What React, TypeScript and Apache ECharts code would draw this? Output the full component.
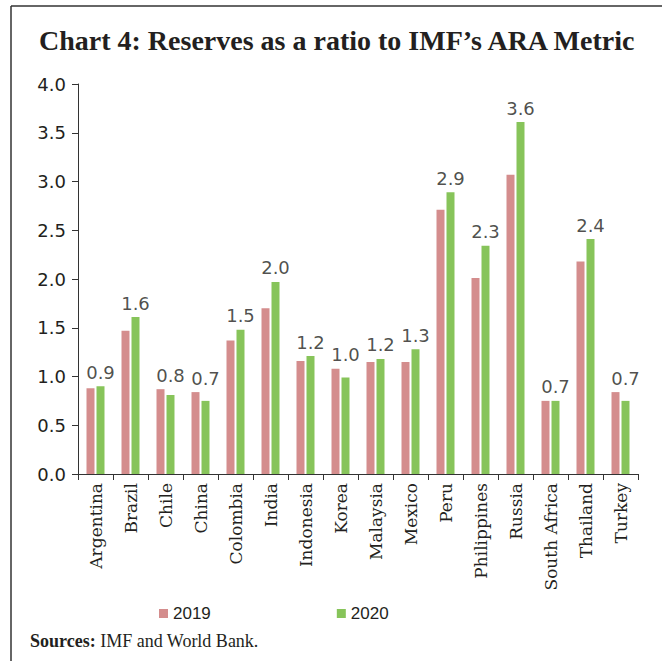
import React, { useEffect, useRef } from "react";
import * as echarts from "echarts";

const countries = [
  "Argentina", "Brazil", "Chile", "China", "Colombia", "India", "Indonesia", "Korea",
  "Malaysia", "Mexico", "Peru", "Philippines", "Russia", "South Africa", "Thailand", "Turkey",
];
const values2019 = [0.88, 1.47, 0.87, 0.84, 1.37, 1.70, 1.16, 1.08, 1.15, 1.15, 2.71, 2.01, 3.07, 0.75, 2.18, 0.84];
const values2020 = [0.90, 1.61, 0.81, 0.75, 1.48, 1.97, 1.21, 0.99, 1.18, 1.28, 2.89, 2.34, 3.61, 0.75, 2.41, 0.75];
const labels2020 = ["0.9", "1.6", "0.8", "0.7", "1.5", "2.0", "1.2", "1.0", "1.2", "1.3", "2.9", "2.3", "3.6", "0.7", "2.4", "0.7"];
const seriesNames = ["2019", "2020"];
const titleText = "Chart 4: Reserves as a ratio to IMF\u2019s ARA Metric";
const sourceBold = "Sources:";
const sourceText = " IMF and World Bank.";

const COLOR_2019 = "#D48D8D";
const COLOR_2020 = "#87C45A";

export default function App() {
  const ref = useRef<HTMLDivElement>(null);
  useEffect(() => {
    if (!ref.current) return;
    const chart = echarts.init(ref.current, undefined, { renderer: "svg" });
    const labelHeights = values2019.map((v, i) => Math.max(v, values2020[i]));
    chart.setOption({
      animation: false,
      backgroundColor: "#ffffff",
      title: {
        text: titleText,
        left: 34,
        top: 21,
        textStyle: {
          fontFamily: "Liberation Serif",
          fontWeight: "bold",
          fontSize: 28,
          color: "#231f20",
        },
      },
      grid: { left: 78, right: 24, top: 84, bottom: 187, containLabel: false },
      legend: {
        data: seriesNames,
        left: 154,
        top: 600,
        icon: "rect",
        itemWidth: 9,
        itemHeight: 9,
        itemGap: 126,
        textStyle: {
          fontFamily: "Liberation Sans",
          fontSize: 17,
          color: "#231f20",
        },
      },
      xAxis: {
        type: "category",
        data: countries,
        axisLine: { lineStyle: { color: "#333", width: 1 } },
        axisTick: { show: true, length: 6, lineStyle: { color: "#333" } },
        axisLabel: {
          interval: 0,
          rotate: 90,
          margin: 9,
          fontFamily: "DejaVu Serif",
          fontSize: 17,
          color: "#231f20",
        },
      },
      yAxis: {
        type: "value",
        min: 0,
        max: 4,
        interval: 0.5,
        axisLine: { show: true, lineStyle: { color: "#333", width: 1 } },
        axisTick: { show: true, length: 6, lineStyle: { color: "#333" } },
        splitLine: { show: false },
        axisLabel: {
          margin: 12,
          fontFamily: "DejaVu Sans",
          fontSize: 18,
          color: "#231f20",
          formatter: (v: number) => v.toFixed(1),
        },
      },
      series: [
        {
          name: seriesNames[0],
          type: "bar",
          data: values2019,
          barWidth: 8,
          barGap: "25%",
          itemStyle: { color: COLOR_2019 },
        },
        {
          name: seriesNames[1],
          type: "bar",
          data: values2020,
          barWidth: 8,
          barGap: "25%",
          itemStyle: { color: COLOR_2020 },
        },
        {
          name: "labels",
          type: "scatter",
          data: labelHeights,
          symbolSize: 0,
          silent: true,
          label: {
            show: true,
            position: "top",
            distance: 5,
            offset: [5, 0],
            fontFamily: "DejaVu Sans",
            fontSize: 18,
            color: "#231f20",
            formatter: (p: any) => labels2020[p.dataIndex],
          },
        },
      ],
      graphic: [
        {
          type: "line",
          shape: { x1: 11, y1: 6, x2: 662, y2: 6 },
          style: { stroke: "#333", lineWidth: 1.5 },
        },
        {
          type: "line",
          shape: { x1: 11, y1: 6, x2: 11, y2: 661 },
          style: { stroke: "#333", lineWidth: 1.5 },
        },
        {
          type: "text",
          left: 30,
          top: 632,
          style: {
            text: "{b|" + sourceBold + "}{r|" + sourceText + "}",
            rich: {
              b: { fontFamily: "Liberation Serif", fontWeight: "bold", fontSize: 18, fill: "#231f20" },
              r: { fontFamily: "Liberation Serif", fontSize: 18, fill: "#231f20" },
            },
          },
        },
      ],
    });
    return () => chart.dispose();
  }, []);
  return (
    <div
      ref={ref}
      style={{ position: "fixed", left: 0, top: 0, width: 662, height: 661 }}
    />
  );
}
